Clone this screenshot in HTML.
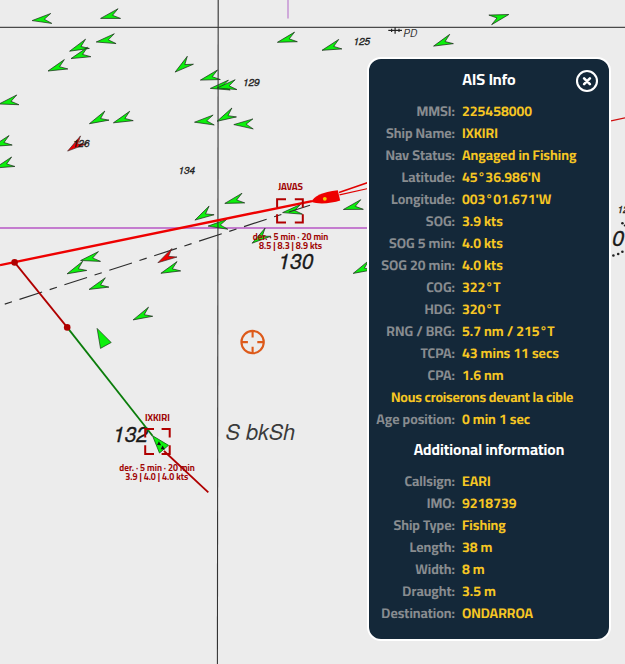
<!DOCTYPE html>
<html><head><meta charset="utf-8">
<style>
html,body{margin:0;padding:0;}
body{width:625px;height:664px;overflow:hidden;background:#ececec;position:relative;font-family:"Cairo","Titillium Web","Liberation Sans",sans-serif;}
#chart{position:absolute;left:0;top:0;}
#panel{position:absolute;left:367px;top:57px;width:240px;height:580px;border:2px solid #fff;border-radius:14px;background:#142839;}
#panel .t{position:absolute;left:0;width:240px;text-align:center;color:#fff;font-weight:700;}
#panel .r{text-rendering:geometricPrecision;position:absolute;left:0;width:240px;height:22px;line-height:22px;font-size:14px;font-weight:700;white-space:nowrap;}
#panel .l{position:absolute;right:154px;color:#888c90;}
#panel .v{position:absolute;left:93px;color:#f6c623;font-weight:700;}
#panel .c{position:absolute;left:22px;color:#f6c623;font-weight:700;letter-spacing:-0.17px;}
#close{position:absolute;left:206px;top:10px;width:24px;height:24px;}
</style></head><body>
<svg id="chart" width="625" height="664" viewBox="0 0 625 664">
<defs>
<path id="ag" d="M0 0L-19.3 -5L-12.3 0L-19.3 5Z" fill="#0cf00c" stroke="#1a2a1a" stroke-width="0.65" stroke-linejoin="miter"/>
<path id="ar" d="M0 0L-19.3 -5L-12.3 0L-19.3 5Z" fill="#f00000" stroke="#3a2a2a" stroke-width="0.6"/>
</defs>
<!-- grid -->
<line x1="0" y1="27.3" x2="625" y2="27.3" stroke="#4a4a4a" stroke-width="1.25"/>
<line x1="288" y1="0" x2="288" y2="18.5" stroke="#c89ad6" stroke-width="1.6"/>
<line x1="0" y1="228" x2="368" y2="228" stroke="#c47ccf" stroke-width="1.9"/>
<!-- depth labels -->
<g font-family="'TeX Gyre Heros', 'Liberation Sans', Arial, sans-serif" font-style="italic" fill="#1a1a1a" stroke="#1a1a1a" stroke-width="0.3">
<text x="353.5" y="44.5" font-size="10">125</text>
<text x="243" y="86" font-size="10">129</text>
<text x="178.5" y="173.7" font-size="10">134</text>
<text x="278.3" y="268.6" font-size="21">130</text>
<text x="113" y="441.6" font-size="21">132</text>
<text x="225.5" y="439.5" font-size="21.6" stroke="none" fill="#3a3a3a">S bkSh</text>
<text x="617.5" y="213.4" font-size="10">12</text>
<text x="612" y="245.5" font-size="22">0</text>
<text x="403.3" y="36.6" font-size="10" fill="#333" stroke="none">PD</text>
</g>
<use href="#ag" transform="translate(32.1 20.6) rotate(173.6)"/>
<use href="#ag" transform="translate(100.6 18.4) rotate(165.5)"/>
<use href="#ag" transform="translate(96.2 42) rotate(170)"/>
<use href="#ag" transform="translate(69.6 51.2) rotate(157.5)"/>
<use href="#ag" transform="translate(71 58.6) rotate(160)"/>
<use href="#ag" transform="translate(48 71) rotate(159.6)"/>
<use href="#ag" transform="translate(175.1 72.1) rotate(142.2)"/>
<use href="#ag" transform="translate(277.4 42.3) rotate(163.8)"/>
<use href="#ag" transform="translate(322 50.3) rotate(161.5)"/>
<use href="#ag" transform="translate(200.4 80.1) rotate(163.9)"/>
<use href="#ag" transform="translate(210.3 88.4) rotate(170)"/>
<use href="#ag" transform="translate(217 88) rotate(170)"/>
<use href="#ag" transform="translate(-1 104) rotate(167.5)"/>
<use href="#ag" transform="translate(89.4 123.7) rotate(155.2)"/>
<use href="#ag" transform="translate(113.4 122.8) rotate(159.3)"/>
<use href="#ag" transform="translate(-7.7 146.4) rotate(161.6)"/>
<use href="#ag" transform="translate(-5 168) rotate(161)"/>
<use href="#ag" transform="translate(194.5 122.2) rotate(173.5)"/>
<use href="#ag" transform="translate(217 121.3) rotate(152.8)"/>
<use href="#ag" transform="translate(233.8 124.6) rotate(178)"/>
<use href="#ag" transform="translate(343.4 209.5) rotate(165)"/>
<use href="#ag" transform="translate(282.6 212.6) rotate(170)"/>
<use href="#ag" transform="translate(252.1 243.2) rotate(145.2)"/>
<use href="#ag" transform="translate(353.2 273.4) rotate(155)"/>
<use href="#ag" transform="translate(224.8 203.4) rotate(164)"/>
<use href="#ag" transform="translate(194.9 220.1) rotate(149.9)"/>
<use href="#ag" transform="translate(208.1 226.1) rotate(174.5)"/>
<use href="#ag" transform="translate(160.9 273.3) rotate(158.6)"/>
<use href="#ag" transform="translate(80.6 260.5) rotate(168)"/>
<use href="#ag" transform="translate(67.1 273.8) rotate(155.8)"/>
<use href="#ag" transform="translate(89.1 289.4) rotate(158.9)"/>
<use href="#ag" transform="translate(133.1 319.9) rotate(155)"/>
<use href="#ag" transform="translate(433.6 46.1) rotate(158.4)"/>
<use href="#ag" transform="translate(508.8 14.5) rotate(-16.2)"/>
<line x1="218.2" y1="0" x2="217.4" y2="664" stroke="#333" stroke-width="1.1"/>
<!-- triangle target -->
<path d="M97.1 328.4L111.2 342.5L100.5 348.4Z" fill="#0cf00c" stroke="#1a2a1a" stroke-width="0.65"/>
<!-- orange crosshair -->
<g stroke="#dd5a1a" stroke-width="2.1" fill="none">
<circle cx="252.6" cy="342.1" r="11.2"/>
<path d="M252.6 330.9v6.5M252.6 353.3v-6.5M241.4 342.1h6.5M263.8 342.1h-6.5"/>
</g>
<!-- dashed line -->
<line x1="0" y1="305.7" x2="310" y2="205.2" stroke="#2c2c2c" stroke-width="1.15" stroke-dasharray="7.6 7.9 23.8 7.9" stroke-dashoffset="-5"/>
<!-- red heading line -->
<line x1="0" y1="265.1" x2="312" y2="201.1" stroke="#ee0000" stroke-width="2.4"/>
<!-- IXKIRI track -->
<line x1="14.6" y1="262.4" x2="67.2" y2="327.4" stroke="#b00000" stroke-width="1.8"/>
<line x1="67.2" y1="327.4" x2="152.5" y2="435.7" stroke="#0b7d0b" stroke-width="1.8"/>
<line x1="164" y1="451" x2="208.3" y2="492.4" stroke="#b00000" stroke-width="1.8"/>
<circle cx="14.6" cy="262.4" r="3.3" fill="#b00000"/>
<circle cx="67.2" cy="327.4" r="3.3" fill="#b00000"/>
<use href="#ar" transform="translate(67.6 151.1) rotate(144.8)"/>
<use href="#ar" transform="translate(157.9 262.7) rotate(149)"/>
<text x="72.8" y="146.8" font-family="'TeX Gyre Heros', 'Liberation Sans', Arial, sans-serif" font-style="italic" font-size="10" fill="#1a1a1a" stroke="#1a1a1a" stroke-width="0.3">126</text>
<!-- JAVAS ship -->
<line x1="339" y1="192.5" x2="368" y2="182.6" stroke="#e00000" stroke-width="1.6"/>
<line x1="339.5" y1="194.8" x2="368" y2="188.5" stroke="#e00000" stroke-width="1.2"/>
<path d="M311.1 201.8C314 196.5 322 191.6 337.8 190.2L340.2 200.6C332 203.2 319 205 311.1 201.8Z" fill="#ee0000"/>
<circle cx="324.8" cy="198.8" r="1.9" fill="#f2cc00"/>
<!-- boxes -->
<g fill="none" stroke="#b00000" stroke-width="2" stroke-linecap="butt">
<path d="M277.1 207.5V199.2H286M294.8 199.2H302.8V207.5M302.8 214.2V222.4H294.8M286 222.4H277.1V214.2"/>
<path d="M145.2 437.5V429H154M161.6 429H169.7V437.5M169.7 445.2V453.9H161.6M154 453.9H145.2V445.2"/>
</g>
<!-- IXKIRI ship -->
<path d="M152.5 435.7L168.5 445.3L159.5 453Z" fill="#0cf00c" stroke="#0b5d0b" stroke-width="0.8"/>
<path d="M158.9 441.2L161.2 445.2L157 445Z M162.6 445.4L164.9 449.4L160.7 449.2Z" fill="#111"/>
<!-- ship labels -->
<g font-family="Cairo, 'Titillium Web', 'Liberation Sans', sans-serif" font-weight="700" fill="#a00606" text-anchor="middle">
<text x="290.6" y="189.8" font-size="9.7">JAVAS</text>
<text x="290.5" y="240" font-size="9">der. · 5 min · 20 min</text>
<text x="290.6" y="249.2" font-size="9">8.5 | 8.3 | 8.9 kts</text>
<text x="157.3" y="420.6" font-size="9.7">IXKIRI</text>
<text x="157" y="471" font-size="9">der. · 5 min · 20 min</text>
<text x="156.8" y="480" font-size="9">3.9 | 4.0 | 4.0 kts</text>
</g>
<!-- right side beyond panel -->
<line x1="611" y1="120.8" x2="625" y2="117.8" stroke="#d01010" stroke-width="1.2"/>
<g fill="#222"><circle cx="613.4" cy="255.5" r="1.3"/><circle cx="618.2" cy="254" r="1.3"/><circle cx="622.4" cy="251.8" r="1.3"/><circle cx="622.4" cy="223.2" r="1.3"/><circle cx="624.8" cy="225.5" r="1.1"/></g>
<!-- cable symbol -->
<g stroke="#222" stroke-width="1.2"><line x1="388.3" y1="30.4" x2="402" y2="30.4"/><line x1="395.1" y1="27.2" x2="395.1" y2="33.7"/><line x1="391.6" y1="28.7" x2="391.6" y2="32.1"/><line x1="399" y1="28.7" x2="399" y2="32.1"/></g>
</svg>
<div id="panel">
 <div class="t" style="top:8px;font-size:16px;line-height:24px;">AIS Info</div>
 <svg id="close" viewBox="0 0 24 24"><circle cx="12" cy="12" r="10" fill="none" stroke="#fff" stroke-width="2.1"/><path d="M9.1 9.3L14.9 15.1M14.9 9.3L9.1 15.1" stroke="#fff" stroke-width="2.6" stroke-linecap="round"/></svg>
 <div class="r" style="top:40.5px"><span class="l">MMSI:</span><span class="v">225458000</span></div>
 <div class="r" style="top:62.5px"><span class="l">Ship Name:</span><span class="v">IXKIRI</span></div>
 <div class="r" style="top:84.5px"><span class="l">Nav Status:</span><span class="v">Angaged in Fishing</span></div>
 <div class="r" style="top:106.5px"><span class="l">Latitude:</span><span class="v">45°36.986'N</span></div>
 <div class="r" style="top:128.5px"><span class="l">Longitude:</span><span class="v">003°01.671'W</span></div>
 <div class="r" style="top:150.5px"><span class="l">SOG:</span><span class="v">3.9 kts</span></div>
 <div class="r" style="top:172.5px"><span class="l">SOG 5 min:</span><span class="v">4.0 kts</span></div>
 <div class="r" style="top:194.5px"><span class="l">SOG 20 min:</span><span class="v">4.0 kts</span></div>
 <div class="r" style="top:216.5px"><span class="l">COG:</span><span class="v">322°T</span></div>
 <div class="r" style="top:238.5px"><span class="l">HDG:</span><span class="v">320°T</span></div>
 <div class="r" style="top:260.5px"><span class="l">RNG / BRG:</span><span class="v">5.7 nm / 215°T</span></div>
 <div class="r" style="top:282.5px"><span class="l">TCPA:</span><span class="v">43 mins 11 secs</span></div>
 <div class="r" style="top:304.5px"><span class="l">CPA:</span><span class="v">1.6 nm</span></div>
 <div class="r" style="top:326.5px"><span class="c">Nous croiserons devant la cible</span></div>
 <div class="r" style="top:348.5px"><span class="l">Age position:</span><span class="v">0 min 1 sec</span></div>
 <div class="t" style="top:378.8px;font-size:15.5px;line-height:24px;">Additional information</div>
 <div class="r" style="top:410.5px"><span class="l">Callsign:</span><span class="v">EARI</span></div>
 <div class="r" style="top:432.5px"><span class="l">IMO:</span><span class="v">9218739</span></div>
 <div class="r" style="top:454.5px"><span class="l">Ship Type:</span><span class="v">Fishing</span></div>
 <div class="r" style="top:476.5px"><span class="l">Length:</span><span class="v">38 m</span></div>
 <div class="r" style="top:498.5px"><span class="l">Width:</span><span class="v">8 m</span></div>
 <div class="r" style="top:520.5px"><span class="l">Draught:</span><span class="v">3.5 m</span></div>
 <div class="r" style="top:542.5px"><span class="l">Destination:</span><span class="v">ONDARROA</span></div>
</div>
</body></html>
